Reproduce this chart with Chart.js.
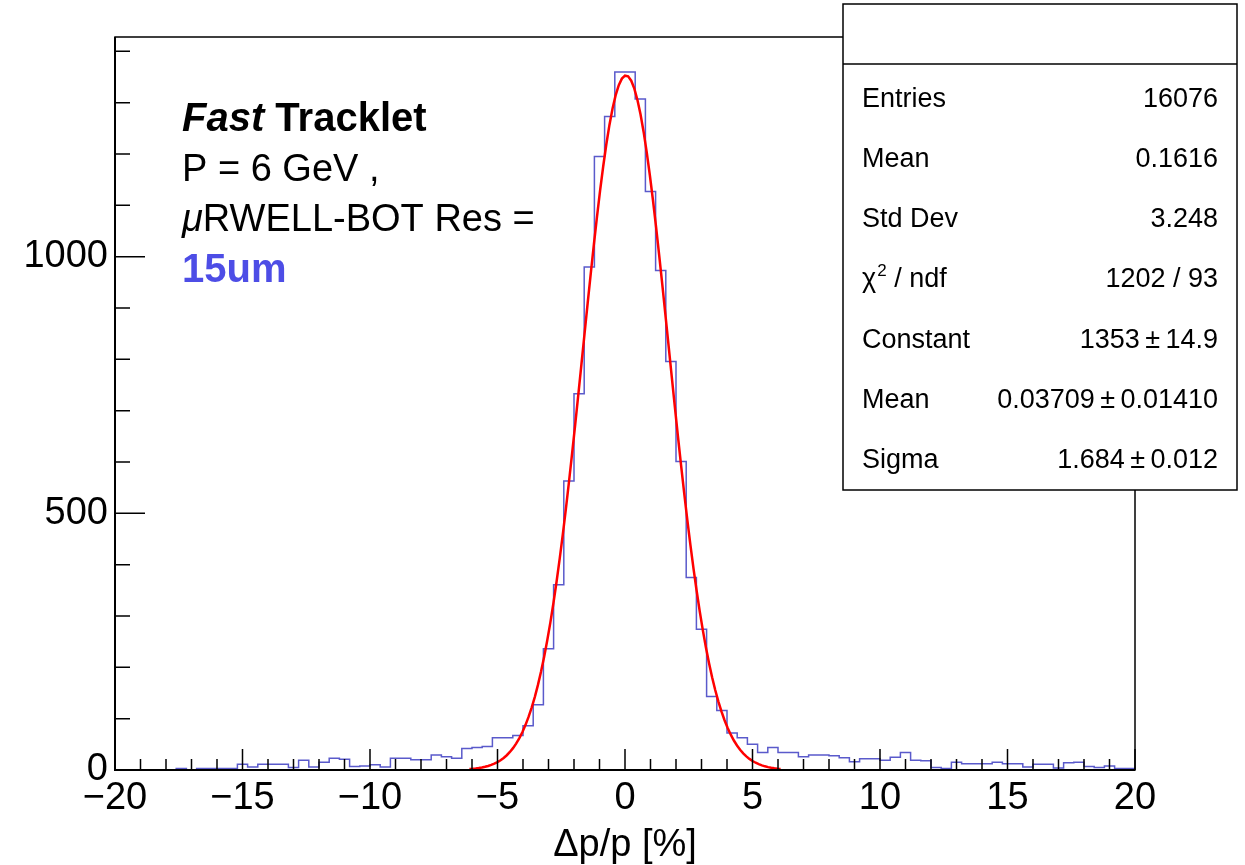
<!DOCTYPE html>
<html>
<head>
<meta charset="utf-8">
<script src="https://cdn.jsdelivr.net/npm/chart.js@4.4.1/dist/chart.umd.min.js"></script>
<style>
  html, body { margin: 0; padding: 0; background: #fff; }
  canvas { display: block; }
</style>
</head>
<body>
<canvas id="chart" width="1245" height="865"></canvas>
<script>
// histogram: 100 bins of 0.4 from -20 to 20
const binLow = -20;
const binWidth = 0.4;
const binCounts = [
  0, 0, 0, 0, 0, 0, 3, 0, 3, 3,
  3, 3, 11, 6, 11, 11, 11, 5, 19, 6,
  15, 23, 21, 7, 8, 10, 6, 23, 23, 20,
  20, 29, 26, 23, 42, 44, 46, 63, 63, 67,
  86, 127, 236, 361, 563, 733, 980, 1195, 1273, 1360,
  1360, 1307, 1127, 973, 796, 601, 375, 274, 143, 116,
  72, 63, 50, 34, 44, 34, 34, 26, 29, 29,
  28, 24, 16, 22, 22, 19, 25, 34, 19, 18,
  5, 3, 15, 12, 12, 12, 15, 12, 12, 6,
  11, 11, 4, 14, 15, 7, 5, 8, 3, 3
];

// gaussian fit, parameters from the stats box
const fitConstant = 1353;
const fitMean = 0.03709;
const fitSigma = 1.684;
const fitRange = [-6.1, 6.1];
const fitPoints = 100;

const xLabelValues = [-20, -15, -10, -5, 0, 5, 10, 15, 20];
const yLabelValues = [0, 500, 1000];
const yMax = 1428;

const statsRows = [
  ["Entries", "16076"],
  ["Mean", "0.1616"],
  ["Std Dev", "3.248"],
  ["chi2", "1202 / 93"],
  ["Constant", "1353\u2009\u00b1\u200914.9"],
  ["Mean", "0.03709\u2009\u00b1\u20090.01410"],
  ["Sigma", "1.684\u2009\u00b1\u20090.012"]
];

const FONT = '"Liberation Sans", Arial, Helvetica, sans-serif';

const histPoints = binCounts.map((c, i) => ({ x: binLow + i * binWidth, y: c }));
histPoints.push({ x: binLow + binCounts.length * binWidth, y: binCounts[binCounts.length - 1] });

const fitCurve = [];
for (let i = 0; i <= fitPoints; i++) {
  const x = fitRange[0] + (fitRange[1] - fitRange[0]) * i / fitPoints;
  fitCurve.push({ x: x, y: fitConstant * Math.exp(-0.5 * Math.pow((x - fitMean) / fitSigma, 2)) });
}

// frame, inward ticks, text and stats box in ROOT style
const rootDecor = {
  id: 'rootDecor',
  afterDatasetsDraw(chart) {
    const { ctx, chartArea: a, scales: { x, y } } = chart;
    ctx.save();
    ctx.strokeStyle = '#000';
    ctx.lineWidth = 1.5;
    ctx.strokeRect(a.left, a.top, a.right - a.left, a.bottom - a.top);

    ctx.beginPath();
    for (let v = 0; v <= yMax; v += 100) {
      const py = y.getPixelForValue(v);
      const len = v % 500 === 0 ? 30 : 15;
      ctx.moveTo(a.left, py);
      ctx.lineTo(a.left + len, py);
    }
    for (let v = -20; v <= 20; v++) {
      const px = x.getPixelForValue(v);
      const len = v % 5 === 0 ? 21 : 11;
      ctx.moveTo(px, a.bottom);
      ctx.lineTo(px, a.bottom - len);
    }
    ctx.stroke();

    // heavier axis lines
    ctx.lineWidth = 2;
    ctx.beginPath();
    ctx.moveTo(a.left, a.top);
    ctx.lineTo(a.left, a.bottom);
    ctx.lineTo(a.right, a.bottom);
    ctx.stroke();
    ctx.restore();
  },
  afterDraw(chart) {
    const ctx = chart.ctx;
    ctx.save();

    // annotation text
    const runs = (x0, y0, parts) => {
      let xx = x0;
      for (const p of parts) {
        ctx.font = p.font;
        ctx.fillStyle = p.color || '#000';
        ctx.fillText(p.text, xx, y0);
        xx += ctx.measureText(p.text).width;
      }
    };
    ctx.textBaseline = 'alphabetic';
    ctx.textAlign = 'left';
    runs(182, 131, [
      { text: 'Fast', font: 'italic bold 40px ' + FONT },
      { text: ' Tracklet', font: 'bold 40px ' + FONT }
    ]);
    runs(182, 181, [{ text: 'P = 6 GeV ,', font: '38px ' + FONT }]);
    runs(182, 231, [
      { text: '\u03bc', font: 'italic 38px ' + FONT },
      { text: 'RWELL-BOT Res =', font: '38px ' + FONT }
    ]);
    runs(182, 282, [{ text: '15um', font: 'bold 40px ' + FONT, color: '#4d4de6' }]);

    // stats box
    const bx = 843, by = 4, bw = 394, bh = 486, hdr = 60;
    ctx.fillStyle = '#fff';
    ctx.fillRect(bx, by, bw, bh);
    ctx.strokeStyle = '#000';
    ctx.lineWidth = 1.5;
    ctx.strokeRect(bx, by, bw, bh);
    ctx.beginPath();
    ctx.moveTo(bx, by + hdr);
    ctx.lineTo(bx + bw, by + hdr);
    ctx.stroke();

    ctx.fillStyle = '#000';
    const fs = 27;
    statsRows.forEach((row, i) => {
      const base = 97 + i * 60.2 + 0.36 * fs;
      ctx.font = fs + 'px ' + FONT;
      ctx.textAlign = 'left';
      if (row[0] === 'chi2') {
        ctx.fillText('\u03c7', 862, base);
        let xx = 862 + ctx.measureText('\u03c7').width + 1;
        ctx.font = '17px ' + FONT;
        ctx.fillText('2', xx, base - 11);
        xx += ctx.measureText('2').width;
        ctx.font = fs + 'px ' + FONT;
        ctx.fillText(' / ndf', xx, base);
      } else {
        ctx.fillText(row[0], 862, base);
      }
      ctx.textAlign = 'right';
      ctx.fillText(row[1], 1218, base);
    });
    ctx.restore();
  }
};

new Chart(document.getElementById('chart').getContext('2d'), {
  type: 'line',
  data: {
    datasets: [
      {
        label: 'gaus fit',
        data: fitCurve,
        borderColor: '#ff0000',
        borderWidth: 2.5,
        pointRadius: 0,
        fill: false,
        order: 0
      },
      {
        label: 'histogram',
        data: histPoints,
        borderColor: '#5a5acb',
        borderWidth: 1.5,
        pointRadius: 0,
        stepped: 'before',
        fill: false,
        order: 1
      }
    ]
  },
  options: {
    responsive: false,
    animation: false,
    devicePixelRatio: 1,
    layout: { padding: { top: 37, right: 110, left: 0, bottom: 0 } },
    plugins: { legend: { display: false }, tooltip: { enabled: false } },
    scales: {
      x: {
        type: 'linear',
        min: -20,
        max: 20,
        afterBuildTicks: (s) => { s.ticks = xLabelValues.map(v => ({ value: v })); },
        afterFit: (s) => { s.height = 95; },
        grid: { display: false, drawTicks: false },
        border: { display: false },
        ticks: {
          autoSkip: false,
          maxRotation: 0,
          padding: 6,
          color: '#000',
          font: { family: FONT, size: 38 },
          callback: (v) => (v < 0 ? '\u2212' + Math.abs(v) : String(v))
        },
        title: {
          display: true,
          text: '\u0394p/p [%]',
          color: '#000',
          font: { family: FONT, size: 38 },
          padding: { top: 0, bottom: -3 }
        }
      },
      y: {
        type: 'linear',
        min: 0,
        max: yMax,
        afterBuildTicks: (s) => { s.ticks = yLabelValues.map(v => ({ value: v })); },
        afterFit: (s) => { s.width = 115; },
        grid: { display: false, drawTicks: false },
        border: { display: false },
        ticks: {
          padding: 7,
          color: '#000',
          font: { family: FONT, size: 38 },
          callback: (v) => String(v)
        }
      }
    }
  },
  plugins: [rootDecor]
});
</script>
</body>
</html>
